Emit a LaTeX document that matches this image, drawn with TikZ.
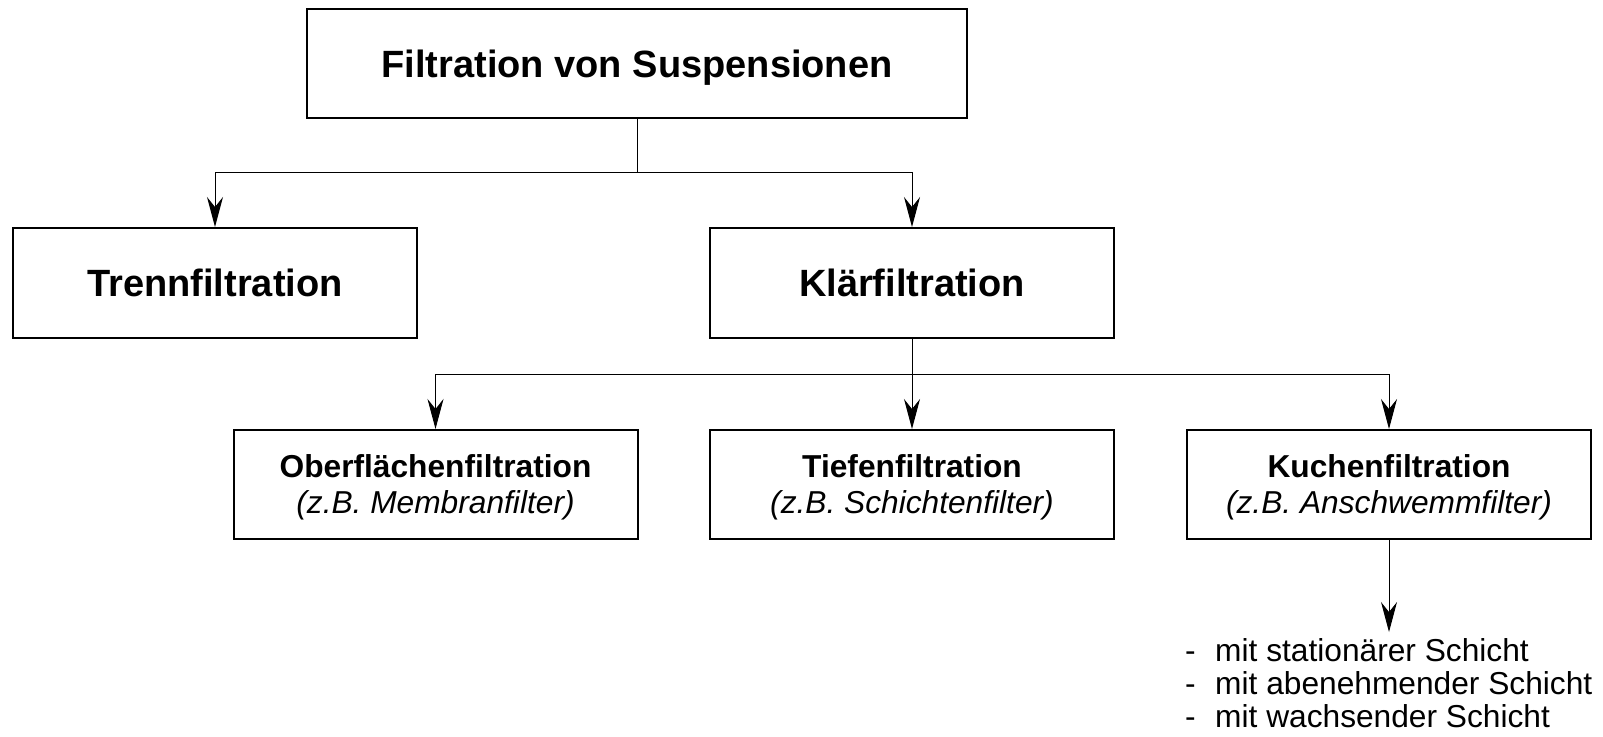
\documentclass[tikz,border=0pt]{standalone}
\usepackage{fontspec}
\setmainfont{Liberation Sans}
\usetikzlibrary{arrows.meta,positioning,calc}

\begin{document}
\begin{tikzpicture}[x=1pt,y=-1pt,>={Stealth[length=30pt,width=16pt,inset=10pt]},
    bigbox/.style={draw,line width=2pt,rectangle,inner sep=0pt,minimum height=110pt,
        text depth=0pt,font=\fontsize{38}{42}\selectfont\bfseries},
    smallbox/.style={draw,line width=2pt,rectangle,inner sep=0pt,minimum width=404pt,
        minimum height=109pt,align=center,text depth=0pt,font=\fontsize{31.7}{36}\selectfont},
    conn/.style={line width=1pt}]
    \useasboundingbox (0,0) rectangle (1603,736);

    \node [bigbox,minimum width=660pt,minimum height=109pt] (filt) at (637,63.5) {Filtration von Suspensionen};
    \node [bigbox,minimum width=404pt] (trenn) at (215,283) {Trennfiltration};
    \node [bigbox,minimum width=404pt] (klaer) at (912,283) {Klärfiltration};

    \node [smallbox] (ober) at (435.5,484.5) {\textbf{Oberflächenfiltration}\\\textit{(z.B. Membranfilter)}};
    \node [smallbox] (tiefen) at (912,484.5) {\textbf{Tiefenfiltration}\\\textit{(z.B. Schichtenfilter)}};
    \node [smallbox] (kuchen) at (1389,484.5) {\textbf{Kuchenfiltration}\\\textit{(z.B. Anschwemmfilter)}};

    \coordinate (j1) at (637,172.5);
    \coordinate (j2) at (912,374);
    \coordinate (kend) at (1389,632);

    \node [anchor=base west,inner sep=0pt,align=left,font=\fontsize{31.7}{32.7}\selectfont] (liste) at (1185,727)
        {\makebox[30pt][l]{-}mit stationärer Schicht\\
         \makebox[30pt][l]{-}mit abenehmender Schicht\\
         \makebox[30pt][l]{-}mit wachsender Schicht};

    \draw[conn] (filt.south) -- (j1);
    \draw[conn,->] (j1) -| (trenn.north);
    \draw[conn,->] (j1) -| (klaer.north);

    \draw[conn] (klaer.south) -- (j2);
    \draw[conn,->] (j2) -| (ober.north);
    \draw[conn,->] (j2) -- (tiefen.north);
    \draw[conn,->] (j2) -| (kuchen.north);

    \draw[conn,->] (kuchen.south) -- (kend);
\end{tikzpicture}
\end{document}
